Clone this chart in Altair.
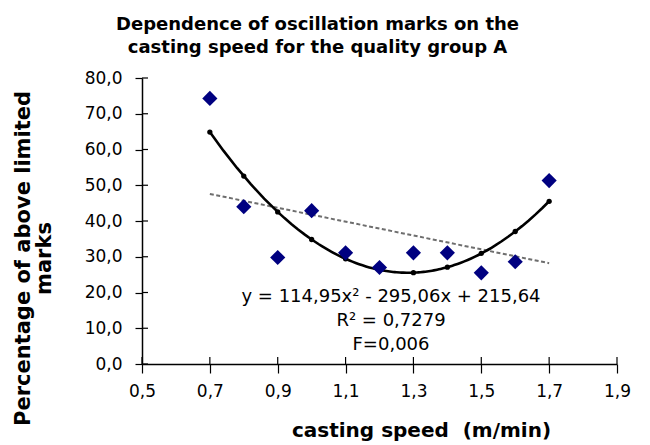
import altair as alt
import numpy as np
import pandas as pd

# data
speed = [0.7, 0.8, 0.9, 1.0, 1.1, 1.2, 1.3, 1.4, 1.5, 1.6, 1.7]
marks = [74.3, 44.0, 29.8, 42.9, 31.1, 27.0, 31.1, 31.1, 25.5, 28.6, 51.3]
x_ticks = [0.5, 0.7, 0.9, 1.1, 1.3, 1.5, 1.7, 1.9]
y_ticks = [0, 10, 20, 30, 40, 50, 60, 70, 80]
annotation = ["y = 114,95x\u00b2 - 295,06x + 215,64", "R\u00b2 = 0,7279", "F=0,006"]
title_lines = ["Dependence of oscillation marks on the", "casting speed for the quality group A"]
y_title = ["Percentage of above limited", "marks"]
x_title = "casting speed\u00a0 (m/min)"

df = pd.DataFrame({"x": speed, "y": marks})
coef = np.polyfit(speed, marks, 2)
df["fit"] = np.polyval(coef, speed)

FONT = "DejaVu Sans"
xs = alt.Scale(domain=[0.5, 1.9], nice=False, zero=False)
ys = alt.Scale(domain=[0, 80], nice=False)
lab = "replace(format(datum.value, '.1f'), '.', ',')"

xaxis = alt.Axis(values=x_ticks, labelExpr=lab, title=x_title, tickSize=9,
                 labelPadding=10, labelFontSize=17, titleFontSize=20,
                 titleFontWeight="bold", titleX=279, titleY=72, labelOverlap=False,
                 labelFlush=False, titleBaseline="alphabetic", titleAnchor="middle")
yaxis = alt.Axis(values=y_ticks, labelExpr=lab, title=y_title, tickSize=7,
                 labelPadding=13, labelFontSize=17, titleFontSize=21, labelOverlap=False,
                 labelFlush=False, titleFontWeight="bold", titleX=-113, titleY=180,
                 titleBaseline="alphabetic", titleAngle=-90, titleAlign="center",
                 titleLineHeight=21)

base = alt.Chart(df)

lin = base.transform_regression("x", "y", method="linear", extent=[0.7, 1.7]).mark_line(
    color="#6e6e6e", strokeWidth=2, strokeDash=[4, 2.5]
).encode(x=alt.X("x:Q", scale=xs, axis=xaxis), y=alt.Y("y:Q", scale=ys, axis=yaxis))

poly = base.transform_regression("x", "y", method="poly", order=2, extent=[0.7, 1.7]).mark_line(
    color="black", strokeWidth=2.6
).encode(x=alt.X("x:Q", axis=xaxis), y=alt.Y("y:Q", axis=yaxis))

fitdots = base.mark_circle(color="black", size=28, opacity=1).encode(
    x=alt.X("x:Q", axis=xaxis), y=alt.Y("fit:Q", axis=yaxis))

pts = base.mark_point(shape="diamond", filled=True, color="#000080", size=230, opacity=1).encode(
    x=alt.X("x:Q", axis=xaxis), y=alt.Y("y:Q", axis=yaxis))

xt = alt.Chart(pd.DataFrame({"t": x_ticks})).mark_rule(color="black", strokeWidth=1.2).encode(
    x=alt.X("t:Q", axis=xaxis), y=alt.value(286), y2=alt.value(279))
yt = alt.Chart(pd.DataFrame({"t": y_ticks})).mark_rule(color="black", strokeWidth=1.2).encode(
    y=alt.Y("t:Q", axis=yaxis), x=alt.value(0), x2=alt.value(6))

ann = alt.Chart(pd.DataFrame({"a": [0]})).mark_text(
    text=annotation, font=FONT, fontSize=18, lineHeight=24, align="center", baseline="middle",
    color="black"
).encode(x=alt.value(249), y=alt.value(219))

chart = alt.layer(lin, poly, fitdots, pts, xt, yt, ann).properties(
    width=475, height=286, autosize="none",
    padding={"left": 134, "top": 70, "right": 25, "bottom": 80},
    title=alt.TitleParams(text=title_lines, font=FONT, fontSize=18, fontWeight="bold",
                          anchor="middle", dx=-62, offset=12, lineHeight=23, color="black"),
).configure_view(stroke=None).configure_axis(
    grid=False, domainColor="black", tickColor="black", domainWidth=1.5, tickWidth=1.2,
    labelFont=FONT, titleFont=FONT, labelColor="black", titleColor="black",
    labelOverlap=False, labelFlush=False
)

chart.save("out.html", embed_options={"renderer": "svg", "actions": False})
